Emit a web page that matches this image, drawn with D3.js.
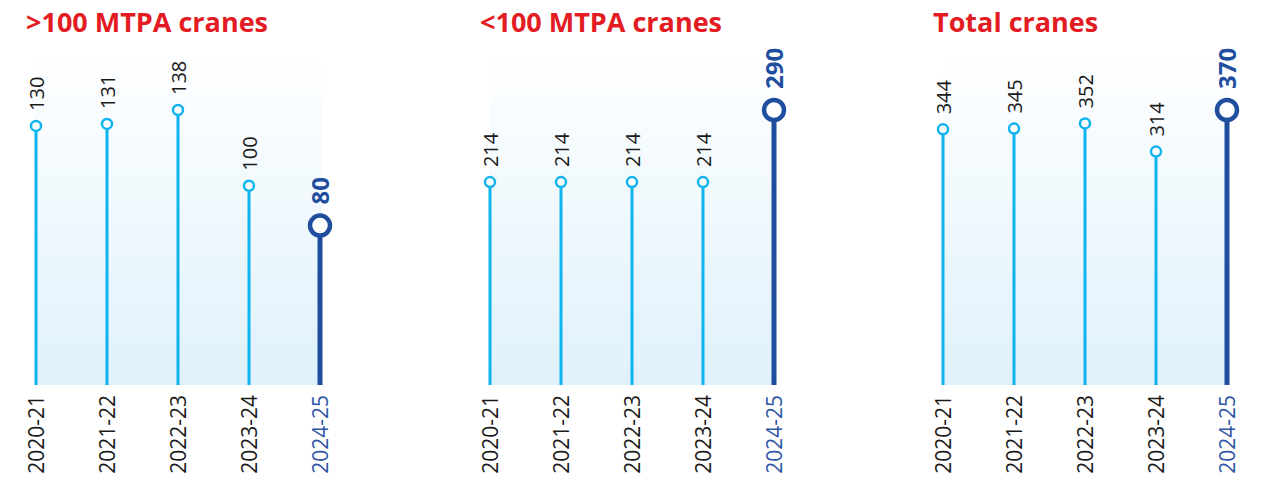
<!DOCTYPE html>
<html>
<head>
<meta charset="utf-8">
<script src="https://cdn.jsdelivr.net/npm/d3@7"></script>
<style>
  body { margin: 0; background: #fff; }
  svg { display: block; font-family: "Open Sans", sans-serif; }
</style>
</head>
<body>
<div id="chart"></div>
<script>
// Data
const years = ["2020-21", "2021-22", "2022-23", "2023-24", "2024-25"];
const titles = [">100 MTPA cranes", "<100 MTPA cranes", "Total cranes"];
const above100 = [130, 131, 138, 100, 80];
const below100 = [214, 214, 214, 214, 290];
const totalCranes = [344, 345, 352, 314, 370];

const seriesList = [above100, below100, totalCranes];

// Layout
const width = 1269;
const height = 477;
const panelLeft = [36, 490, 943];
const panelSpan = 284;
const baseY = 385;
const topY = 110;
const bgTop = 50;

const lightBlue = "#0fb4ef";
const darkBlue = "#1f4e9e";
const red = "#e31b23";

const svg = d3.select("#chart")
    .append("svg")
    .attr("width", width)
    .attr("height", height);

// Gradient for the background area
const defs = svg.append("defs");
const grad = defs.append("linearGradient")
    .attr("id", "bgGrad")
    .attr("x1", 0).attr("y1", 0)
    .attr("x2", 0).attr("y2", 1);
grad.append("stop").attr("offset", "0%").attr("stop-color", "#ffffff");
grad.append("stop").attr("offset", "100%").attr("stop-color", "#dff1fb");

seriesList.forEach((values, p) => {
    const x = d3.scalePoint()
        .domain(years)
        .range([panelLeft[p], panelLeft[p] + panelSpan]);

    const y = d3.scaleLinear()
        .domain([0, d3.max(values)])
        .range([baseY, topY]);

    const g = svg.append("g");
    const last = years.length - 1;

    // Background gradient
    g.append("rect")
        .attr("x", x(years[0]))
        .attr("y", bgTop)
        .attr("width", x(years[last]) - x(years[0]) + 2)
        .attr("height", baseY - bgTop)
        .attr("fill", "url(#bgGrad)");

    // Title
    g.append("text")
        .attr("x", panelLeft[p] - 10)
        .attr("y", 32)
        .text(titles[p])
        .style("font-size", "27px")
        .style("font-weight", "bold")
        .style("fill", red);

    const data = years.map((yr, i) => ({ year: yr, value: values[i], hl: i === last }));

    // Stems
    g.selectAll(".stem")
        .data(data)
        .enter()
        .append("line")
        .attr("class", "stem")
        .attr("x1", d => x(d.year))
        .attr("x2", d => x(d.year))
        .attr("y1", baseY)
        .attr("y2", d => y(d.value))
        .attr("stroke", d => d.hl ? darkBlue : lightBlue)
        .attr("stroke-width", d => d.hl ? 5 : 3);

    // Markers
    g.selectAll(".dot")
        .data(data)
        .enter()
        .append("circle")
        .attr("class", "dot")
        .attr("cx", d => x(d.year))
        .attr("cy", d => y(d.value))
        .attr("r", d => d.hl ? 10 : 5)
        .attr("fill", "#fff")
        .attr("stroke", d => d.hl ? darkBlue : lightBlue)
        .attr("stroke-width", d => d.hl ? 4.5 : 2.5);

    // Value labels
    g.selectAll(".val")
        .data(data)
        .enter()
        .append("text")
        .attr("class", "val")
        .attr("transform", d => `translate(${x(d.year) + (d.hl ? 9 : 8)},${y(d.value) - (d.hl ? 21 : 15)}) rotate(-90)`)
        .text(d => d.value)
        .style("font-size", d => d.hl ? "24px" : "20px")
        .style("font-weight", d => d.hl ? "bold" : "normal")
        .style("fill", d => d.hl ? darkBlue : "#1a1a1a");

    // Year labels
    g.selectAll(".yr")
        .data(data)
        .enter()
        .append("text")
        .attr("class", "yr")
        .attr("text-anchor", "end")
        .attr("transform", d => `translate(${x(d.year) + 8},${baseY + 10}) rotate(-90)`)
        .text(d => d.year)
        .style("font-size", "21px")
        .style("fill", d => d.hl ? "#2f56a6" : "#1a1a1a");
});
</script>
</body>
</html>
